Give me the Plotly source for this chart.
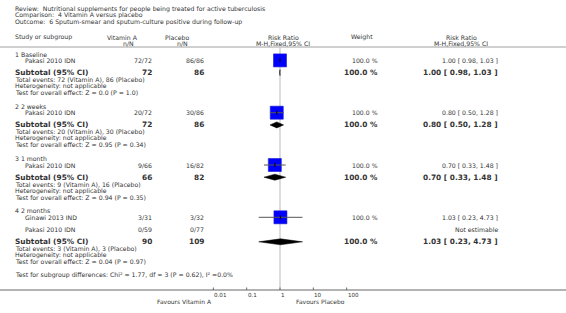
import numpy as np
import plotly.graph_objects as go

# ---------------- data ----------------
title_lines = [
    "Review:  Nutritional supplements for people being treated for active tuberculosis",
    "Comparison:  4 Vitamin A versus placebo",
    "Outcome:  6 Sputum-smear and sputum-culture positive during follow-up",
]
groups = ["1 Baseline", "2 2 weeks", "3 1 month", "4 2 months"]
study_group = [0, 1, 2, 3, 3]
study_names = ["Pakasi 2010 IDN", "Pakasi 2010 IDN", "Pakasi 2010 IDN", "Ginawi 2013 IND", "Pakasi 2010 IDN"]
vitA_events = [72, 20, 9, 3, 0]
vitA_total = [72, 72, 66, 31, 59]
plac_events = [86, 30, 16, 3, 0]
plac_total = [86, 86, 82, 32, 77]
study_rr = [1.00, 0.80, 0.70, 1.03, None]
study_lo = [0.98, 0.50, 0.33, 0.23, None]
study_hi = [1.03, 1.28, 1.48, 4.73, None]
study_weight = [100.0, 100.0, 100.0, 100.0, None]

sub_vitA_total = [72, 72, 66, 90]
sub_plac_total = [86, 86, 82, 109]
sub_vitA_events = [72, 20, 9, 3]
sub_plac_events = [86, 30, 16, 3]
sub_rr = [1.00, 0.80, 0.70, 1.03]
sub_lo = [0.98, 0.50, 0.33, 0.23]
sub_hi = [1.03, 1.28, 1.48, 4.73]
sub_weight = [100.0, 100.0, 100.0, 100.0]
sub_z = ["0.0", "0.95", "0.94", "0.04"]
sub_p = ["1.0", "0.34", "0.35", "0.97"]
subgroup_test = "Test for subgroup differences: Chi\u00b2 = 1.77, df = 3 (P = 0.62), I\u00b2 =0.0%"

tick_vals = [0.01, 0.1, 1, 10, 100]
tick_labels = ["0.01", "0.1", "1", "10", "100"]
favours_left = "Favours Vitamin A"
favours_right = "Favours Placebo"

# ---------------- layout constants ----------------
W, H = 566, 313
PX_PER_DEC = 33.33
X_ONE = 280.0
FONT = "DejaVu Sans, Verdana, sans-serif"
TXT = "#333333"
FS = 6.2      # regular font size
FSB = 7.4     # bold font size

def px(xpix):
    return xpix / W

annotations = []
def text(xpix, y, s, anchor="left", size=FS, bold=False, color=TXT):
    if bold:
        s = "<b>" + s + "</b>"
    annotations.append(dict(x=px(xpix), y=y, xref="paper", yref="y", text=s,
                            showarrow=False, xanchor=anchor, yanchor="middle",
                            font=dict(family=FONT, size=size, color=color)))

def fmt_ci(r, l, h):
    return f"{r:.2f} [ {l:.2f}, {h:.2f} ]"

# columns
X_LEFT = 13
X_STUDY = 23
X_VITA = 154
X_PLAC = 206
X_WEIGHT = 380
X_RR = 500

fig = go.Figure()

# title
for i, line in enumerate(title_lines):
    text(X_LEFT, 8.5 + 6.6 * i, line)

# header
HY1, HY2 = 37, 43
text(X_LEFT, HY1, "Study or subgroup")
text(122.5, HY1, "Vitamin A", "center")
text(128.5, HY2, "n/N", "center")
text(177, HY1, "Placebo", "center")
text(182.5, HY2, "n/N", "center")
text(283, HY1, "Risk Ratio", "center")
text(283, HY2, "M-H,Fixed,95% CI", "center")
text(362, HY1, "Weight", "center")
text(461, HY1, "Risk Ratio", "center")
text(461, HY2, "M-H,Fixed,95% CI", "center")

# rows
cur = 54.0
study_y = []
sub_y = []
for g, gname in enumerate(groups):
    text(X_LEFT, cur, gname)
    cur += 6.4
    idx = [i for i, sg in enumerate(study_group) if sg == g]
    for k, i in enumerate(idx):
        if k > 0:
            cur += 12.3
        study_y.append(cur)
        text(X_STUDY, cur, study_names[i])
        text(X_VITA, cur, f"{vitA_events[i]}/{vitA_total[i]}", "right")
        text(X_PLAC, cur, f"{plac_events[i]}/{plac_total[i]}", "right")
        if study_rr[i] is not None:
            text(X_WEIGHT, cur, f"{study_weight[i]:.1f} %", "right")
            text(X_RR, cur, fmt_ci(study_rr[i], study_lo[i], study_hi[i]), "right")
        else:
            text(X_RR, cur, "Not estimable", "right")
    cur += 12.2
    sub_y.append(cur)
    text(X_LEFT, cur, "Subtotal (95% CI)", size=FSB, bold=True)
    text(X_VITA, cur, str(sub_vitA_total[g]), "right", FSB, True)
    text(X_PLAC, cur, str(sub_plac_total[g]), "right", FSB, True)
    text(X_WEIGHT, cur, f"{sub_weight[g]:.1f} %", "right", FSB, True)
    text(X_RR, cur, fmt_ci(sub_rr[g], sub_lo[g], sub_hi[g]), "right", FSB, True)
    text(X_LEFT, cur + 6.8, f"Total events: {sub_vitA_events[g]} (Vitamin A), {sub_plac_events[g]} (Placebo)")
    text(X_LEFT, cur + 13.4, "Heterogeneity: not applicable")
    text(X_LEFT, cur + 19.9, f"Test for overall effect: Z = {sub_z[g]} (P = {sub_p[g]})")
    cur += 19.9 + 13.8

text(X_LEFT, cur - 13.8 + 13.3, subgroup_test)

AXIS_Y = 290
# axis tick labels and favours
for v, lab in zip(tick_vals, tick_labels):
    xp = X_ONE + PX_PER_DEC * np.log10(v)
    text(xp - 1, 294.5, lab, "left", 5.6)
text(214, 301, favours_left, "right", 6.0)
text(347, 301, favours_right, "right", 6.0)

shapes = []
# header rule and axis rule
shapes.append(dict(type="line", xref="paper", yref="y", x0=0, x1=1, y0=47, y1=47,
                   line=dict(color="#a0a0a0", width=1)))
shapes.append(dict(type="line", xref="paper", yref="y", x0=0, x1=1, y0=AXIS_Y, y1=AXIS_Y,
                   line=dict(color="#9a9a9a", width=1.6)))
# null line
shapes.append(dict(type="line", xref="x", yref="y", x0=1, x1=1, y0=48, y1=AXIS_Y,
                   line=dict(color="#dcdcdc", width=2), layer="below"))
# ticks
for v in tick_vals:
    shapes.append(dict(type="line", xref="x", yref="y", x0=v, x1=v, y0=AXIS_Y - 2.5, y1=AXIS_Y,
                       line=dict(color="#666666", width=1)))

# study markers
for i, y in zip(range(len(study_names)), study_y):
    if study_rr[i] is None:
        continue
    fig.add_trace(go.Scatter(x=[study_rr[i]], y=[y], mode="markers",
                             marker=dict(symbol="square", size=13, color="#0000ff",
                                         line=dict(color="#1a1ad0", width=0.6)),
                             hoverinfo="skip", showlegend=False))
    fig.add_trace(go.Scatter(x=[study_lo[i], study_hi[i]], y=[y, y], mode="lines",
                             line=dict(color="#555555", width=1), hoverinfo="skip", showlegend=False))
    fig.add_trace(go.Scatter(x=[study_rr[i]], y=[y], mode="markers",
                             marker=dict(symbol="line-ns", size=3, line=dict(color="#000000", width=1)),
                             hoverinfo="skip", showlegend=False))

# diamonds
for g, y in enumerate(sub_y):
    fig.add_trace(go.Scatter(x=[sub_lo[g], sub_rr[g], sub_hi[g], sub_rr[g], sub_lo[g]],
                             y=[y, y - 3, y, y + 3, y], mode="lines", fill="toself",
                             fillcolor="#000000", line=dict(color="#000000", width=0.5),
                             hoverinfo="skip", showlegend=False))

lo_edge = -X_ONE / PX_PER_DEC
hi_edge = (W - X_ONE) / PX_PER_DEC
fig.update_layout(
    width=W, height=H, autosize=False,
    margin=dict(l=0, r=0, t=0, b=0),
    paper_bgcolor="white", plot_bgcolor="white",
    xaxis=dict(type="log", range=[lo_edge, hi_edge], domain=[0, 1], visible=False, fixedrange=True),
    yaxis=dict(range=[H, 0], domain=[0, 1], visible=False, fixedrange=True),
    annotations=annotations, shapes=shapes, showlegend=False,
)
fig.write_html("out.html", config={"displayModeBar": False, "staticPlot": True},
               post_script="document.body.style.margin='0';document.body.style.overflow='hidden';")
